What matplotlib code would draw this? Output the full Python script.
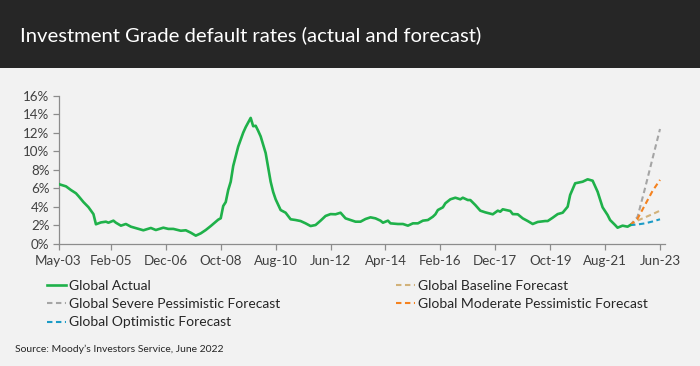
import matplotlib
matplotlib.use("Agg")
import matplotlib.pyplot as plt
from matplotlib.patches import Rectangle

plt.rcParams['font.family'] = ['Lato', 'DejaVu Sans']

# ---- data (month index from May-2003, default rate %) ----
actual_month = [0, 3, 4, 5, 7, 8, 10, 12, 14, 15, 17, 19, 20, 22, 23, 25, 27, 29, 32, 34,
                37, 39, 42, 44, 46, 49, 51, 53, 55, 57, 59, 61, 63, 64, 65, 66, 67, 68, 69, 70,
                72, 74, 75, 77, 78, 79, 80, 81, 83, 85, 86, 87, 89, 91, 93, 95, 97, 99, 101, 103,
                105, 107, 109, 111, 113, 115, 117, 119, 121, 123, 125, 127, 129, 130, 132, 133, 136, 138, 140, 142,
                144, 146, 148, 150, 151, 152, 154, 155, 157, 159, 161, 162, 164, 165, 167, 169, 171, 174, 176, 177,
                178, 181, 182, 184, 186, 188, 190, 192, 195, 196, 198, 200, 202, 204, 205, 207, 210, 212, 214, 216,
                218, 220, 221, 223, 224, 226, 228, 229]
actual_value = [6.45, 6.2, 6.0, 5.8, 5.45, 5.15, 4.5, 3.95, 3.2, 2.1, 2.3, 2.38, 2.27, 2.49, 2.27, 1.95, 2.13, 1.84, 1.6, 1.45,
                1.7, 1.48, 1.73, 1.6, 1.6, 1.4, 1.45, 1.19, 0.87, 1.12, 1.48, 1.91, 2.38, 2.6, 2.75, 4.08, 4.5, 5.8, 6.7, 8.4,
                10.5, 12.0, 12.6, 13.6, 12.7, 12.75, 12.2, 11.6, 9.8, 6.7, 5.6, 4.8, 3.64, 3.35, 2.64, 2.56, 2.45, 2.2, 1.91, 2.02,
                2.49, 3.0, 3.2, 3.18, 3.35, 2.74, 2.56, 2.38, 2.38, 2.67, 2.85, 2.74, 2.49, 2.27, 2.49, 2.2, 2.13, 2.13, 1.95, 2.2,
                2.2, 2.49, 2.56, 2.92, 3.18, 3.64, 3.93, 4.37, 4.8, 4.97, 4.8, 4.97, 4.72, 4.72, 4.18, 3.57, 3.39, 3.18, 3.57, 3.46,
                3.72, 3.54, 3.2, 3.18, 2.74, 2.45, 2.13, 2.35, 2.45, 2.45, 2.81, 3.2, 3.35, 4.0, 5.27, 6.53, 6.7, 6.96, 6.81, 5.62,
                3.93, 3.1, 2.56, 2.02, 1.73, 1.95, 1.84, 2.0]

forecast_month = [229, 232, 235, 238, 241]
baseline = [2.0, 2.5, 2.85, 3.2, 3.57]
severe = [2.0, 2.9, 6.0, 9.2, 12.4]
moderate = [2.0, 2.7, 4.2, 5.7, 6.9]
optimistic = [2.0, 2.08, 2.2, 2.4, 2.64]

tick_month = [0, 21, 43, 65, 87, 109, 131, 153, 175, 197, 219, 241]
tick_label = ["May-03", "Feb-05", "Dec-06", "Oct-08", "Aug-10", "Jun-12", "Apr-14",
              "Feb-16", "Dec-17", "Oct-19", "Aug-21", "Jun-23"]
y_ticks = [0, 2, 4, 6, 8, 10, 12, 14, 16]

title = "Investment Grade default rates (actual and forecast)"
source = "Source: Moody\u2019s Investors Service, June 2022"

# ---- figure ----
W, H = 700, 366
fig = plt.figure(figsize=(W / 100, H / 100), dpi=100)
fig.patch.set_facecolor("#f2f2f2")
fig.add_artist(Rectangle((0, 1 - 68 / H), 1, 68 / H, transform=fig.transFigure,
                         facecolor="#262626", edgecolor="none", zorder=0))
fig.text(20 / W, 1 - 35 / H, title, color="white", fontsize=14.6, va="center", ha="left")

ax = fig.add_axes([58.5 / W, 1 - 243.7 / H, (665 - 58.5) / W, (243.7 - 95.7) / H])
ax.set_facecolor("#f2f2f2")

green = "#1fb14a"
c_base = "#d2b27a"
c_sev = "#a5a5a5"
c_mod = "#f5821f"
c_opt = "#1b9bc6"

l_act, = ax.plot(actual_month, actual_value, color=green, lw=1.9, label="Global Actual", zorder=5)
dash = (0, (2.6, 1.7))
l_base, = ax.plot(forecast_month, baseline, color=c_base, lw=1.5, ls=dash, label="Global Baseline Forecast")
l_sev, = ax.plot(forecast_month, severe, color=c_sev, lw=1.5, ls=dash, label="Global Severe Pessimistic Forecast")
l_mod, = ax.plot(forecast_month, moderate, color=c_mod, lw=1.5, ls=dash, label="Global Moderate Pessimistic Forecast")
l_opt, = ax.plot(forecast_month, optimistic, color=c_opt, lw=1.5, ls=dash, label="Global Optimistic Forecast")

ax.set_xlim(0, 243)
ax.set_ylim(0, 16)
ax.set_xticks(tick_month)
ax.set_xticklabels(tick_label)
ax.set_yticks(y_ticks)
ax.set_yticklabels([f"{v}%" for v in y_ticks])
for s in ["top", "right"]:
    ax.spines[s].set_visible(False)
for s in ["left", "bottom"]:
    ax.spines[s].set_color("#8c8c8c")
    ax.spines[s].set_linewidth(0.9)
ax.tick_params(axis="both", colors="#8c8c8c", length=4, width=0.9, labelcolor="#404040", labelsize=9.6)
ax.tick_params(axis="x", pad=4)
ax.tick_params(axis="y", pad=2.5)

leg_kw = dict(frameon=False, fontsize=10, handlelength=1.37, handletextpad=0.2,
              labelspacing=0.45, borderpad=0, borderaxespad=0, labelcolor="#262626")
leg1 = fig.legend(handles=[l_act, l_sev, l_opt], loc="upper left",
                  bbox_to_anchor=(47 / W, 1 - 280 / H), **leg_kw)
leg2 = fig.legend(handles=[l_base, l_mod], loc="upper left",
                  bbox_to_anchor=(396 / W, 1 - 280 / H), **leg_kw)

fig.text(15 / W, 1 - 349 / H, source, fontsize=7.5, color="#262626", va="center", ha="left")

fig.savefig("out.png", dpi=100, facecolor=fig.get_facecolor())
